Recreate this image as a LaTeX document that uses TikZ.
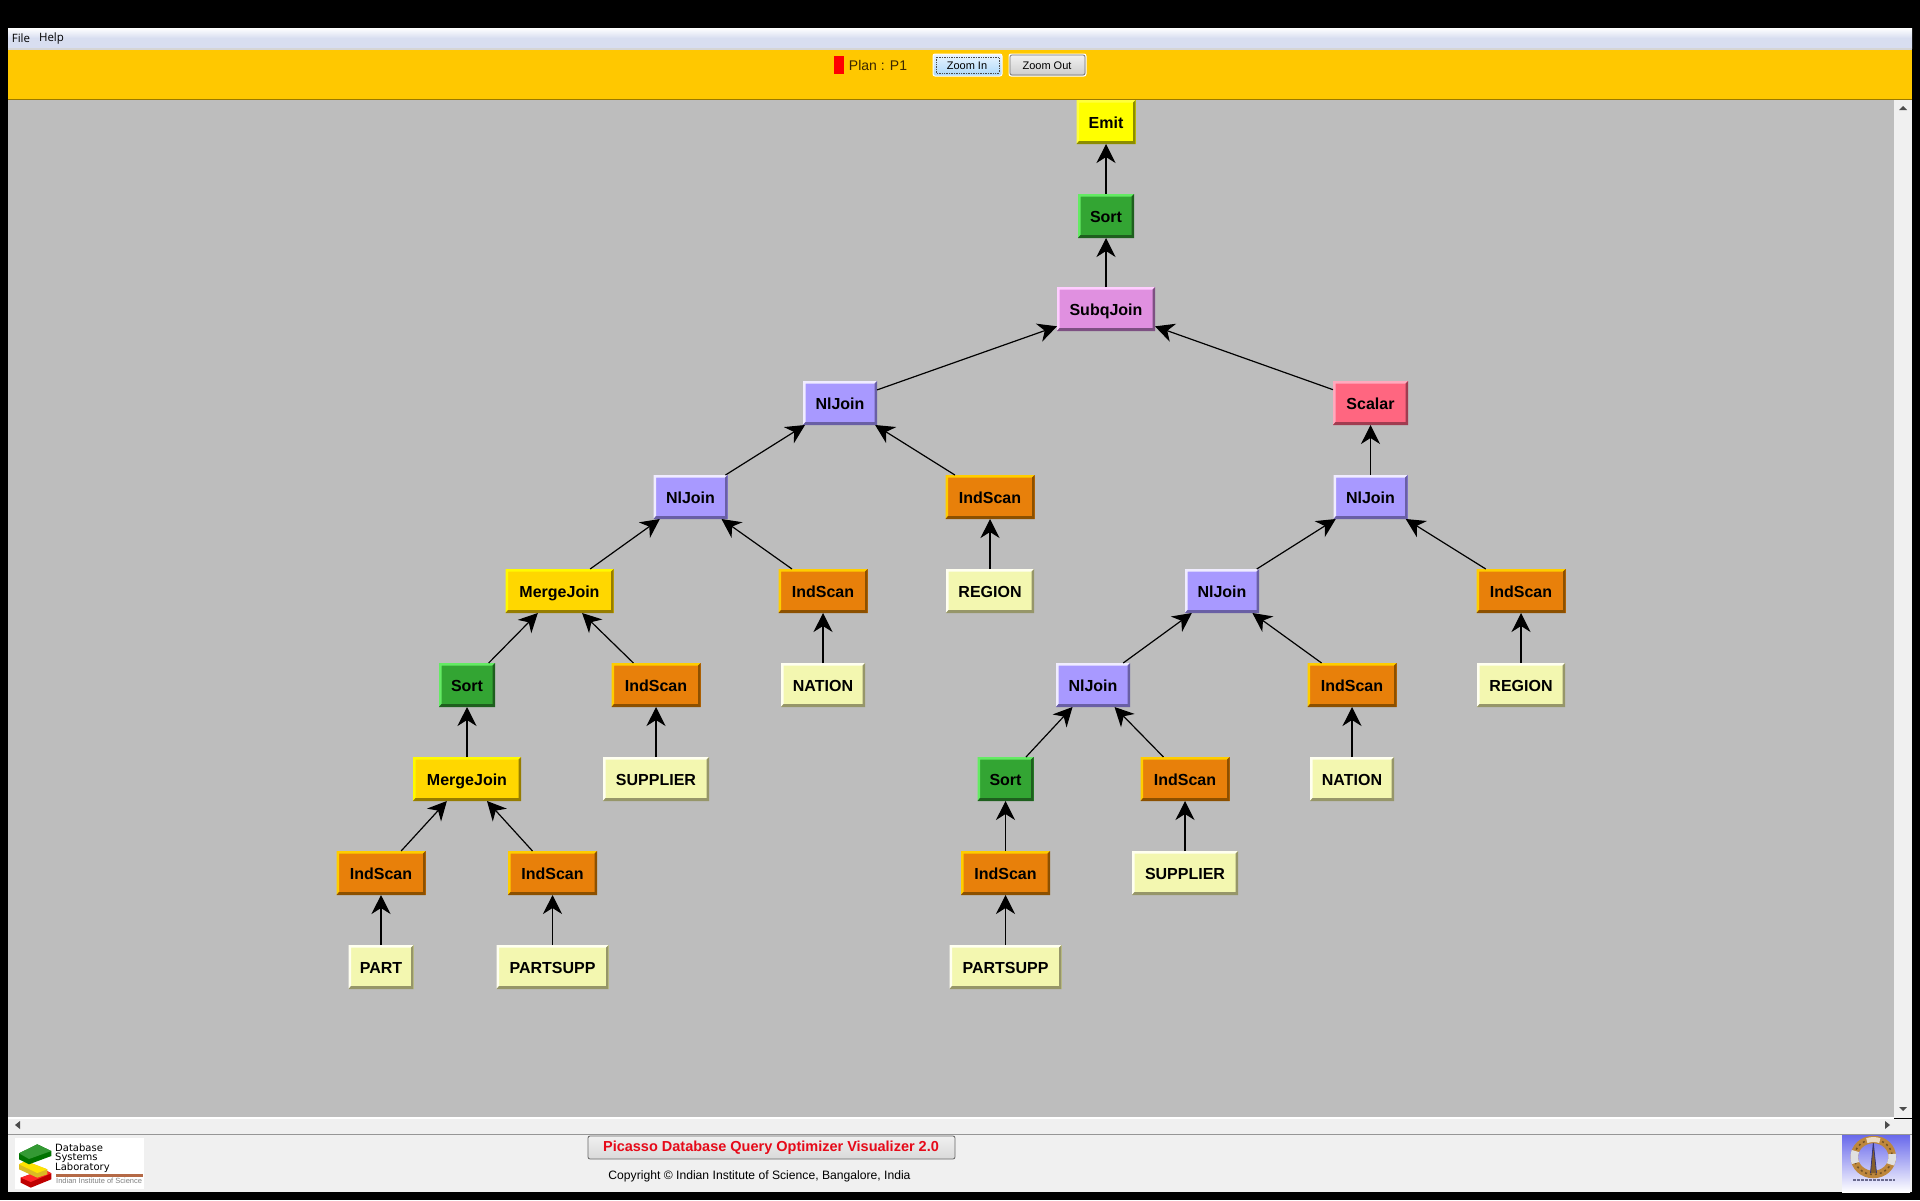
\documentclass[tikz,border=0pt]{standalone}
\usepackage{fontspec}
\usepackage{xcolor}
\usetikzlibrary{arrows.meta,calc}
\setmainfont{Liberation Sans}
\newfontfamily\menufont{Open Sans}
\newfontfamily\labfont{DejaVu Sans}
\definecolor{BarYellow}{RGB}{255,200,0}
\definecolor{PaneGray}{RGB}{189,189,189}
\definecolor{ChromeGray}{RGB}{240,240,240}
\definecolor{MenuBlue}{RGB}{216,222,240}
\definecolor{LineGray}{RGB}{150,150,150}
\definecolor{TitleRed}{RGB}{230,10,25}
\definecolor{LabBrown}{RGB}{180,105,70}
\definecolor{RingGold}{RGB}{190,135,60}
\definecolor{RingBlue}{RGB}{105,105,235}
\definecolor{ZoomTop}{RGB}{235,245,255}
\definecolor{ZoomBottom}{RGB}{170,215,250}
\definecolor{EmitFill}{RGB}{255,255,0}
\definecolor{EmitLight}{RGB}{255,255,60}
\definecolor{EmitDark}{RGB}{140,140,0}
\definecolor{SortFill}{RGB}{51,165,51}
\definecolor{SortLight}{RGB}{100,235,100}
\definecolor{SortDark}{RGB}{30,95,30}
\definecolor{SubqFill}{RGB}{224,144,224}
\definecolor{SubqLight}{RGB}{255,205,255}
\definecolor{SubqDark}{RGB}{125,80,130}
\definecolor{NlFill}{RGB}{168,153,255}
\definecolor{NlLight}{RGB}{240,236,255}
\definecolor{NlDark}{RGB}{105,95,165}
\definecolor{ScalarFill}{RGB}{255,102,128}
\definecolor{ScalarLight}{RGB}{255,170,190}
\definecolor{ScalarDark}{RGB}{160,60,80}
\definecolor{MergeFill}{RGB}{255,215,0}
\definecolor{MergeLight}{RGB}{255,250,0}
\definecolor{MergeDark}{RGB}{150,125,0}
\definecolor{IndFill}{RGB}{232,128,10}
\definecolor{IndLight}{RGB}{255,205,0}
\definecolor{IndDark}{RGB}{140,80,0}
\definecolor{RelFill}{RGB}{243,247,176}
\definecolor{RelLight}{RGB}{255,255,240}
\definecolor{RelDark}{RGB}{150,150,105}
\def\pbb{path picture bounding box}
\tikzset{
  opbox/.style={draw=none, fill=#1Fill, minimum height=44pt, inner sep=0pt, outer sep=0pt,
    text height=13pt, text depth=0pt, font=\fontsize{16}{18}\selectfont\bfseries,
    path picture={
      \fill[#1Light] (\pbb.south west) -- (\pbb.north west) -- (\pbb.north east)
        -- ++(-2.5pt,-2.5pt) -- ($(\pbb.north west)+(2.5pt,-2.5pt)$) -- ($(\pbb.south west)+(2.5pt,3pt)$) -- cycle;
      \fill[#1Dark] (\pbb.south west) -- (\pbb.south east) -- (\pbb.north east)
        -- ++(-2.5pt,-2.5pt) -- ($(\pbb.south east)+(-2.5pt,3pt)$) -- ($(\pbb.south west)+(2.5pt,3pt)$) -- cycle;
    }},
  emitbox/.style={opbox=Emit, minimum width=59pt},
  sortbox/.style={opbox=Sort, minimum width=56pt},
  subqbox/.style={opbox=Subq, minimum width=98pt},
  nlbox/.style={opbox=Nl, minimum width=74pt},
  scalarbox/.style={opbox=Scalar, minimum width=75pt},
  mergebox/.style={opbox=Merge, minimum width=108pt},
  indbox/.style={opbox=Ind, minimum width=89pt},
  relbox/.style={opbox=Rel},
  edge/.style={-{Stealth[length=19pt,width=19pt,inset=6pt]}, line width=1.2pt, black},
  menutext/.style={font=\menufont\fontsize{11.5}{13}\selectfont, text=black, inner sep=0pt},
  btntext/.style={font=\fontsize{11}{13}\selectfont, text=black, inner sep=0pt},
  labtext/.style={anchor=west, inner sep=0pt, font=\labfont\fontsize{10}{12}\selectfont}
}
\begin{document}
\begin{tikzpicture}[x=1pt,y=-1pt]
        \useasboundingbox (0,0) rectangle (1920,1200);
        \fill[black] (0,0) rectangle (1920,1200);
        \shade[top color=white, bottom color=MenuBlue, middle color=MenuBlue] (8,28) rectangle (1912,48);
        \fill[ChromeGray!70!LineGray] (8,47.5) rectangle (1912,49.5);
        \fill[BarYellow] (8,49.5) rectangle (1912,99);
        \fill[BarYellow!60!black] (8,98.5) rectangle (1912,99.5);
        \fill[PaneGray] (8,99.5) rectangle (1894,1117);
        \fill[ChromeGray] (1894,99.5) rectangle (1912,1118);
        \fill[white] (8,1117) rectangle (1894,1118.5);
        \fill[ChromeGray] (8,1118.5) rectangle (1912,1134);
        \fill[LineGray] (8,1134) rectangle (1912,1135);
        \fill[ChromeGray] (8,1135) rectangle (1912,1192);
        \fill[black!70] (1899,110) -- (1907,110) -- (1903,106) -- cycle;
        \fill[black!70] (1899,1107) -- (1907,1107) -- (1903,1111) -- cycle;
        \fill[black!70] (20,1121) -- (20,1129) -- (15,1125) -- cycle;
        \fill[black!70] (1885,1121) -- (1885,1129) -- (1890,1125) -- cycle;

        \node[menutext] (fileMenu) at (21,38.5) {File};
        \node[menutext] (helpMenu) at (51.5,38.5) {Help};
        \fill[red] (834,56) rectangle (844,74);
        \node[inner sep=0pt, font=\fontsize{14}{16}\selectfont, text={rgb,255:red,60;green,40;blue,0}] (planLabel) at (878,65.5) {Plan : P1};
        \shade[top color=ZoomTop, bottom color=ZoomBottom, draw=white, rounded corners=2pt, line width=1pt] (933,54) rectangle (1002,76);
        \draw[black!70, densely dotted, line width=0.7pt] (936,57) rectangle (999,73);
        \node[btntext] (zoomIn) at (967,65.5) {Zoom In};
        \shade[top color=white!95!black, bottom color=black!20, draw=white, rounded corners=2pt, line width=1pt] (1009,54) rectangle (1086,76);
        \draw[black!55, rounded corners=2pt, line width=0.7pt] (1010,55) rectangle (1085,75);
        \node[btntext] (zoomOut) at (1047,65.5) {Zoom Out};

        \node[emitbox] (emit) at (1106,122) {Emit};
        \node[sortbox] (sortTop) at (1106,216) {Sort};
        \node[subqbox] (subq) at (1106,309) {SubqJoin};
        \node[nlbox] (nlA) at (840,403) {NlJoin};
        \node[scalarbox] (scalar) at (1370.5,403) {Scalar};
        \node[nlbox] (nlB) at (690.5,497) {NlJoin};
        \node[indbox] (indA) at (990,497) {IndScan};
        \node[nlbox] (nlC) at (1370.5,497) {NlJoin};
        \node[mergebox] (mergeA) at (559.5,591) {MergeJoin};
        \node[indbox] (indB) at (823,591) {IndScan};
        \node[relbox, minimum width=88pt] (regionA) at (990,591) {REGION};
        \node[nlbox] (nlD) at (1222,591) {NlJoin};
        \node[indbox] (indC) at (1521,591) {IndScan};
        \node[sortbox] (sortA) at (467,685) {Sort};
        \node[indbox] (indD) at (656,685) {IndScan};
        \node[relbox, minimum width=84pt] (nationA) at (823,685) {NATION};
        \node[nlbox] (nlE) at (1093,685) {NlJoin};
        \node[indbox] (indE) at (1352,685) {IndScan};
        \node[relbox, minimum width=88pt] (regionB) at (1521,685) {REGION};
        \node[mergebox] (mergeB) at (467,779) {MergeJoin};
        \node[relbox, minimum width=106pt] (supplierA) at (656,779) {SUPPLIER};
        \node[sortbox] (sortB) at (1005.5,779) {Sort};
        \node[indbox] (indF) at (1185,779) {IndScan};
        \node[relbox, minimum width=84pt] (nationB) at (1352,779) {NATION};
        \node[indbox] (indG) at (381,873) {IndScan};
        \node[indbox] (indH) at (552.5,873) {IndScan};
        \node[indbox] (indI) at (1005.5,873) {IndScan};
        \node[relbox, minimum width=106pt] (supplierB) at (1185,873) {SUPPLIER};
        \node[relbox, minimum width=65pt] (part) at (381,967) {PART};
        \node[relbox, minimum width=112pt] (partsuppA) at (552.5,967) {PARTSUPP};
        \node[relbox, minimum width=112pt] (partsuppB) at (1005.5,967) {PARTSUPP};

        \draw[edge] (sortTop) -- (emit);
        \draw[edge] (subq) -- (sortTop);
        \draw[edge] (nlA) -- (subq);
        \draw[edge] (scalar) -- (subq);
        \draw[edge] (nlB) -- (nlA);
        \draw[edge] (indA) -- (nlA);
        \draw[edge] (nlC) -- (scalar);
        \draw[edge] (mergeA) -- (nlB);
        \draw[edge] (indB) -- (nlB);
        \draw[edge] (regionA) -- (indA);
        \draw[edge] (nlD) -- (nlC);
        \draw[edge] (indC) -- (nlC);
        \draw[edge] (sortA) -- (mergeA);
        \draw[edge] (indD) -- (mergeA);
        \draw[edge] (nationA) -- (indB);
        \draw[edge] (nlE) -- (nlD);
        \draw[edge] (indE) -- (nlD);
        \draw[edge] (regionB) -- (indC);
        \draw[edge] (mergeB) -- (sortA);
        \draw[edge] (supplierA) -- (indD);
        \draw[edge] (sortB) -- (nlE);
        \draw[edge] (indF) -- (nlE);
        \draw[edge] (nationB) -- (indE);
        \draw[edge] (indG) -- (mergeB);
        \draw[edge] (indH) -- (mergeB);
        \draw[edge] (indI) -- (sortB);
        \draw[edge] (supplierB) -- (indF);
        \draw[edge] (part) -- (indG);
        \draw[edge] (partsuppA) -- (indH);
        \draw[edge] (partsuppB) -- (indI);

        \fill[white] (15,1138) rectangle (144,1189);
        \fill[red!75!black] (20.7,1177.7) -- (44,1169.3) -- (51.3,1173.3) -- (51.3,1179.3) -- (30.7,1187.7) -- (20.7,1182.7) -- cycle;
        \fill[red!85!white] (20.7,1177.7) -- (44,1169.3) -- (51.3,1173.3) -- (30.7,1182) -- cycle;
        \fill[yellow!70!orange!85!black] (19,1164.3) -- (25.7,1161) -- (47.3,1169.3) -- (47.3,1174.3) -- (37.3,1177.7) -- (19,1169.3) -- cycle;
        \fill[yellow!85!orange] (19,1164.3) -- (25.7,1161) -- (47.3,1169.3) -- (37.3,1173) -- cycle;
        \fill[green!45!black] (19,1153.3) -- (37.3,1144.3) -- (51.3,1151) -- (51.3,1156) -- (29,1164.3) -- (19,1159.3) -- cycle;
        \fill[green!50!black!80!white] (19,1153.3) -- (37.3,1144.3) -- (51.3,1151) -- (29,1159) -- cycle;
        \node[labtext] (labA) at (55,1148) {Database};
        \node[labtext] (labB) at (55,1158) {Systems};
        \node[labtext] (labC) at (55,1168) {Laboratory};
        \fill[LabBrown] (56,1174) rectangle (143,1176.5);
        \node[anchor=west, inner sep=0pt, text=black!50, font=\fontsize{7.5}{9}\selectfont] (labD) at (56,1181) {Indian Institute of Science};

        \shade[top color=ChromeGray, bottom color=black!15, draw=black!60, rounded corners=2pt, line width=0.8pt] (588,1136) rectangle (955,1159);
        \node[inner sep=0pt, text=TitleRed, font=\fontsize{14.5}{16}\selectfont\bfseries] (title) at (771,1148) {Picasso Database Query Optimizer Visualizer 2.0};
        \node[inner sep=0pt, font=\fontsize{12.15}{14}\selectfont] (copyright) at (759.5,1176.5) {Copyright © Indian Institute of Science, Bangalore, India};

        \shade[top color=RingBlue, bottom color=white] (1842,1135) rectangle (1910,1192);
        \draw[RingGold, line width=7.5pt] (1873.3,1157) ellipse [x radius=19, y radius=17.5];
        \draw[RingGold!60!black, line width=1.5pt, dash pattern=on 2pt off 3pt] (1873.3,1157) ellipse [x radius=19, y radius=17.5];
        \draw[white!88!black, line width=7.5pt] (1855.4,1163) arc[start angle=160, end angle=200, x radius=19, y radius=17.5];
        \draw[white!88!black, line width=7.5pt] (1892,1154) arc[start angle=-10, end angle=25, x radius=19, y radius=17.5];
        \draw[white!70!RingGold, line width=5pt] (1866.8,1140.6) arc[start angle=250, end angle=290, x radius=19, y radius=17.5];
        \fill[RingGold!70!black] (1870.5,1173) -- (1873.3,1143) -- (1876.5,1173) -- cycle;
        \draw[RingBlue!50!black, line width=0.8pt] (1870.5,1173) -- (1873.3,1143) -- (1876.5,1173);
        \draw[RingBlue!40!black!70!white, line width=2.5pt, dash pattern=on 3pt off 1pt] (1853,1180) -- (1895,1180);
      \end{tikzpicture}
\end{document}
